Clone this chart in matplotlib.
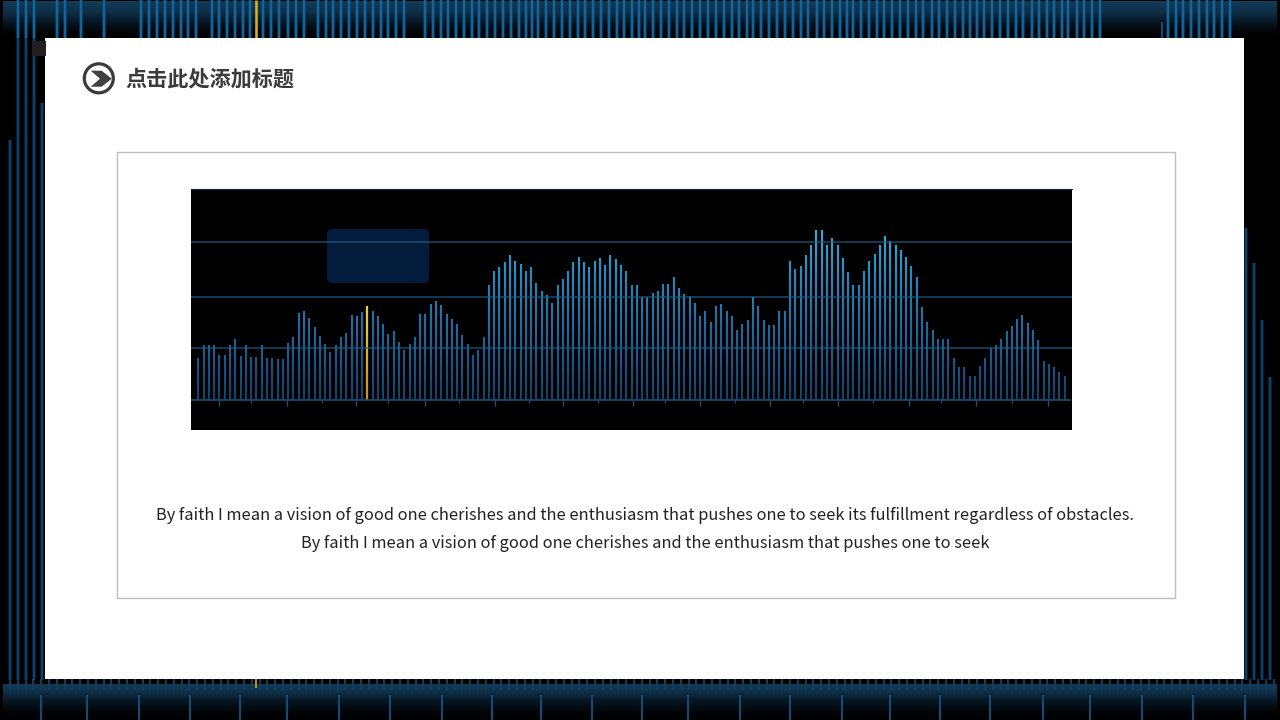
import matplotlib
matplotlib.use('Agg')
import matplotlib.pyplot as plt
import numpy as np
from matplotlib.colors import LinearSegmentedColormap
from matplotlib.patches import FancyBboxPatch, Rectangle, Circle, Polygon

plt.rcParams['font.family'] = ['Noto Sans CJK SC', 'DejaVu Sans']

title = '点击此处添加标题'
body_lines = [
    'By faith I mean a vision of good one cherishes and the enthusiasm that pushes one to seek its fulfillment regardless of obstacles.',
    'By faith I mean a vision of good one cherishes and the enthusiasm that pushes one to seek',
]

# bar heights
values = [42, 54.7, 55, 55.3, 45.3, 45.3, 55.3, 61, 44.3, 55.3, 43, 43, 55.3, 42, 42, 41.3, 41.3, 57.3, 62.7, 87,
          88.7, 82, 73, 64.3, 56.3, 48, 54.7, 63, 67, 85, 84.3, 87.7, 94, 88.7, 84.3, 76.3, 66, 68.7, 58.3, 50.3,
          56, 63, 86.3, 86.3, 96, 99, 95, 86.3, 80.7, 76.3, 65, 56.3, 45.3, 50.3, 63, 115.3,
          128.7, 133.3, 137.7, 145.3, 138.7, 136, 128.7, 133.3, 116.7, 108.7, 105.3, 97.3, 115.3, 121.3, 128.7,
          137.7, 143, 137.7, 133.3, 138.7, 142, 135, 145.3, 141, 135, 128.7, 115.3, 115.3, 103, 103, 107, 109,
          116, 116, 122.7, 112, 106.3, 103.7, 97.3, 84.3, 89, 77.7, 94, 96.3, 88.7, 84, 69.7, 76.3, 80.3, 103,
          94, 80.3, 75.3, 75, 89,
          89, 139.3, 131.3, 134.3, 144.7, 155, 170, 170, 155, 162, 155, 142, 128, 115.3, 115.3, 128.7, 138.7,
          146.3, 155, 163.7, 159.3, 155, 149.7, 143, 134, 122.7, 93, 77.7, 69.7, 60.7, 60.7, 60.7, 42, 33.3,
          32.7, 24.3, 24.3, 34.3, 42.3, 51.7, 55.3, 61, 69, 73.7, 80.7, 85, 77.3, 69.7, 60, 39, 35.7, 32.7,
          28.3, 24.3]
highlight = 32
grid_vals = [52, 103.3, 157.7]
major_ticks = [3.98, 16.73, 29.85, 42.91, 56.16, 68.98, 82.2, 94.96, 108.3, 121.1, 134.6, 147.3, 160.8]
minor_ticks = [9.98, 23.36, 35.96, 49.4, 62.6, 75.6, 88.3, 101.6, 114.5, 127.7, 140.6, 154.1]

# background picture bars, in slide pixels
top_x = [18, 26, 34, 57, 65, 81, 104, 141, 149, 157, 165, 173, 181, 188, 196, 212, 219, 227, 235, 243, 250,
         263, 271, 279, 288, 296, 304, 318, 326, 333, 341, 349, 357, 365, 373, 381, 388, 396, 404,
         425, 433, 441, 448, 456, 464, 472, 479, 487, 495, 503, 511, 519, 526, 532, 538, 546, 554, 562, 570,
         578, 585, 593, 601, 609, 617, 624, 632, 639, 645, 653, 661, 669, 677, 684, 692, 700, 708, 716, 724,
         732, 739, 747, 753, 761, 769, 777, 785, 793, 801, 808, 817, 824, 832, 840, 847, 853, 861, 869, 877,
         884, 892, 900, 908, 916, 923, 932, 939, 947, 955, 963, 970, 977, 984, 992, 1000, 1008, 1016, 1023,
         1032, 1039, 1047, 1054, 1062, 1068, 1077, 1084, 1092, 1100,
         1168, 1176, 1183, 1191, 1199, 1207, 1214, 1222, 1230]
left_x = [10, 18, 26, 34, 42]
left_top = [140, 38, 38, 38, 103]
right_x = [1246, 1254, 1262, 1270]
right_top = [228, 263, 320, 377]
bottom_x = [41, 87, 139, 190, 240, 287, 339, 390, 442, 492, 541, 592, 642, 688, 740, 790, 842, 890, 940, 990,
            1043, 1090, 1142, 1193, 1245]

fig = plt.figure(figsize=(12.8, 7.2), dpi=100, facecolor='black')

# whole slide, y runs downwards in pixels
bg = fig.add_axes([0, 0, 1, 1])
bg.axis('off')
bg.set_facecolor('black')

band_cmap = LinearSegmentedColormap.from_list('band', ['#000000', '#06141f', '#0e2f47', '#143b58'])
bg.imshow(np.linspace(1, 0, 64).reshape(-1, 1) ** 1.1, cmap=band_cmap, extent=(3, 1277, 36, 1),
          aspect='auto', zorder=1, vmin=0, vmax=1)
bg.imshow(np.linspace(1, 0, 64).reshape(-1, 1) ** 1.5, cmap=band_cmap, extent=(3, 1277, 719, 684),
          aspect='auto', zorder=1, vmin=0, vmax=1, interpolation='bilinear')
bg.set_xlim(0, 1280)
bg.set_ylim(720, 0)

bg.vlines(top_x, 0, 38, color='#0f4c7c', lw=3, alpha=0.4, zorder=2)
bg.vlines(top_x, 0, 38, color='#14649c', lw=1.7, zorder=3)
bg.vlines(1162, 22, 38, color='#0f4c7c', lw=1.5, zorder=3)
bg.vlines(256, 0, 38, color='#d0b020', lw=1.9, zorder=3)
bg.vlines(left_x, left_top, 680, color='#0b2d47', lw=3, alpha=0.6, zorder=2)
bg.vlines(left_x, left_top, 680, color='#0f4068', lw=1.5, zorder=3)
bg.vlines(right_x, right_top, 680, color='#0b2d47', lw=3, alpha=0.6, zorder=2)
bg.vlines(right_x, right_top, 680, color='#0f4068', lw=1.5, zorder=3)
bg.vlines(np.arange(10, 1278, 7.8), 679, 690, color='#103f62', lw=1.4, zorder=2)
bg.vlines(bottom_x, 695, 720, color='#154a75', lw=1.5, zorder=3)
bg.vlines(256, 679, 688, color='#b89020', lw=1.5, zorder=3)

# white slide panel
bg.add_patch(Rectangle((45, 38), 1199, 641, fc='white', ec='none', zorder=5))
bg.add_patch(Rectangle((32, 41), 14, 15, fc='#231f20', ec='none', zorder=6))
bg.add_patch(Rectangle((117, 151.5), 1057.5, 446, fc='none', ec='#bfbfbf', lw=1, zorder=6))

# title icon
bg.add_patch(Circle((98.8, 78.3), 14.5, fc='white', ec='#3a3a3a', lw=2.3, zorder=6))
bg.add_patch(Polygon([(90.7, 70.7), (101.7, 70.7), (111.7, 78.7), (101.7, 86.7), (90.7, 86.7), (100, 78.7)],
                     closed=True, fc='#404040', ec='none', zorder=7))

bg.text(125, 78.5, title, fontsize=15.2, fontweight='bold', color='#3b3b3b', va='center', ha='left', zorder=7)
bg.text(645, 516, body_lines[0], fontsize=11.83, color='#222222', va='center', ha='center', zorder=7)
bg.text(645, 544, body_lines[1], fontsize=11.83, color='#222222', va='center', ha='center', zorder=7)

# chart picture
ax = fig.add_axes([191 / 1280, (720 - 430) / 720, 881 / 1280, 241 / 720], zorder=10)
ax.set_facecolor('black')

n = len(values)
step = (1064.7 - 198.3) / (n - 1)
x = np.arange(n)
vals = np.array(values)
ax.set_xlim((191 - 198.3) / step, (1072 - 198.3) / step)
ax.set_ylim(-30, 211)

# bars are cut in height bands so that the colour gets brighter upwards
bar_cmap = LinearSegmentedColormap.from_list('bars', ['#12416a', '#1a6399', '#1f86bc', '#2bb0e0'])
gold_cmap = LinearSegmentedColormap.from_list('gold', ['#c88f22', '#d8b52c', '#e4d24a'])
for lo in range(0, 172, 4):
    hi = lo + 4
    keep = vals > lo
    keep[highlight] = False
    ax.vlines(x[keep], lo, np.minimum(vals[keep], hi), color=bar_cmap(lo / 170), lw=1.5, zorder=1)
    if vals[highlight] > lo:
        ax.vlines(x[highlight], lo, min(vals[highlight], hi), color=gold_cmap(lo / 94), lw=1.6, zorder=1.5)

ax.add_patch(FancyBboxPatch(((327 - 198.3) / step, 117), 102 / step, 54,
                            boxstyle='round,pad=0,rounding_size=1', mutation_aspect=step,
                            fc='#031c3c', ec='none', zorder=0.5))

ax.set_yticks(grid_vals)
ax.set_axisbelow(False)
ax.grid(axis='y', color='#1f5f85', lw=1.3, alpha=0.65)
ax.set_xticks(major_ticks)
ax.set_xticks(minor_ticks, minor=True)
ax.tick_params(axis='x', which='major', length=4, width=1, color='#1d4f70', labelbottom=False)
ax.tick_params(axis='x', which='minor', length=2.4, width=1, color='#1d4f70')
ax.tick_params(axis='y', length=0, labelleft=False)
for side in ['left', 'right']:
    ax.spines[side].set_visible(False)
ax.spines['top'].set_color('#0c2a3a')
ax.spines['bottom'].set_position(('data', 0))
ax.spines['bottom'].set_color('#1d4f70')
ax.spines['bottom'].set_linewidth(1.2)
ax.spines['bottom'].set_bounds((192 - 198.3) / step, (1070 - 198.3) / step)

fig.savefig('out.png', dpi=100, facecolor='black')
